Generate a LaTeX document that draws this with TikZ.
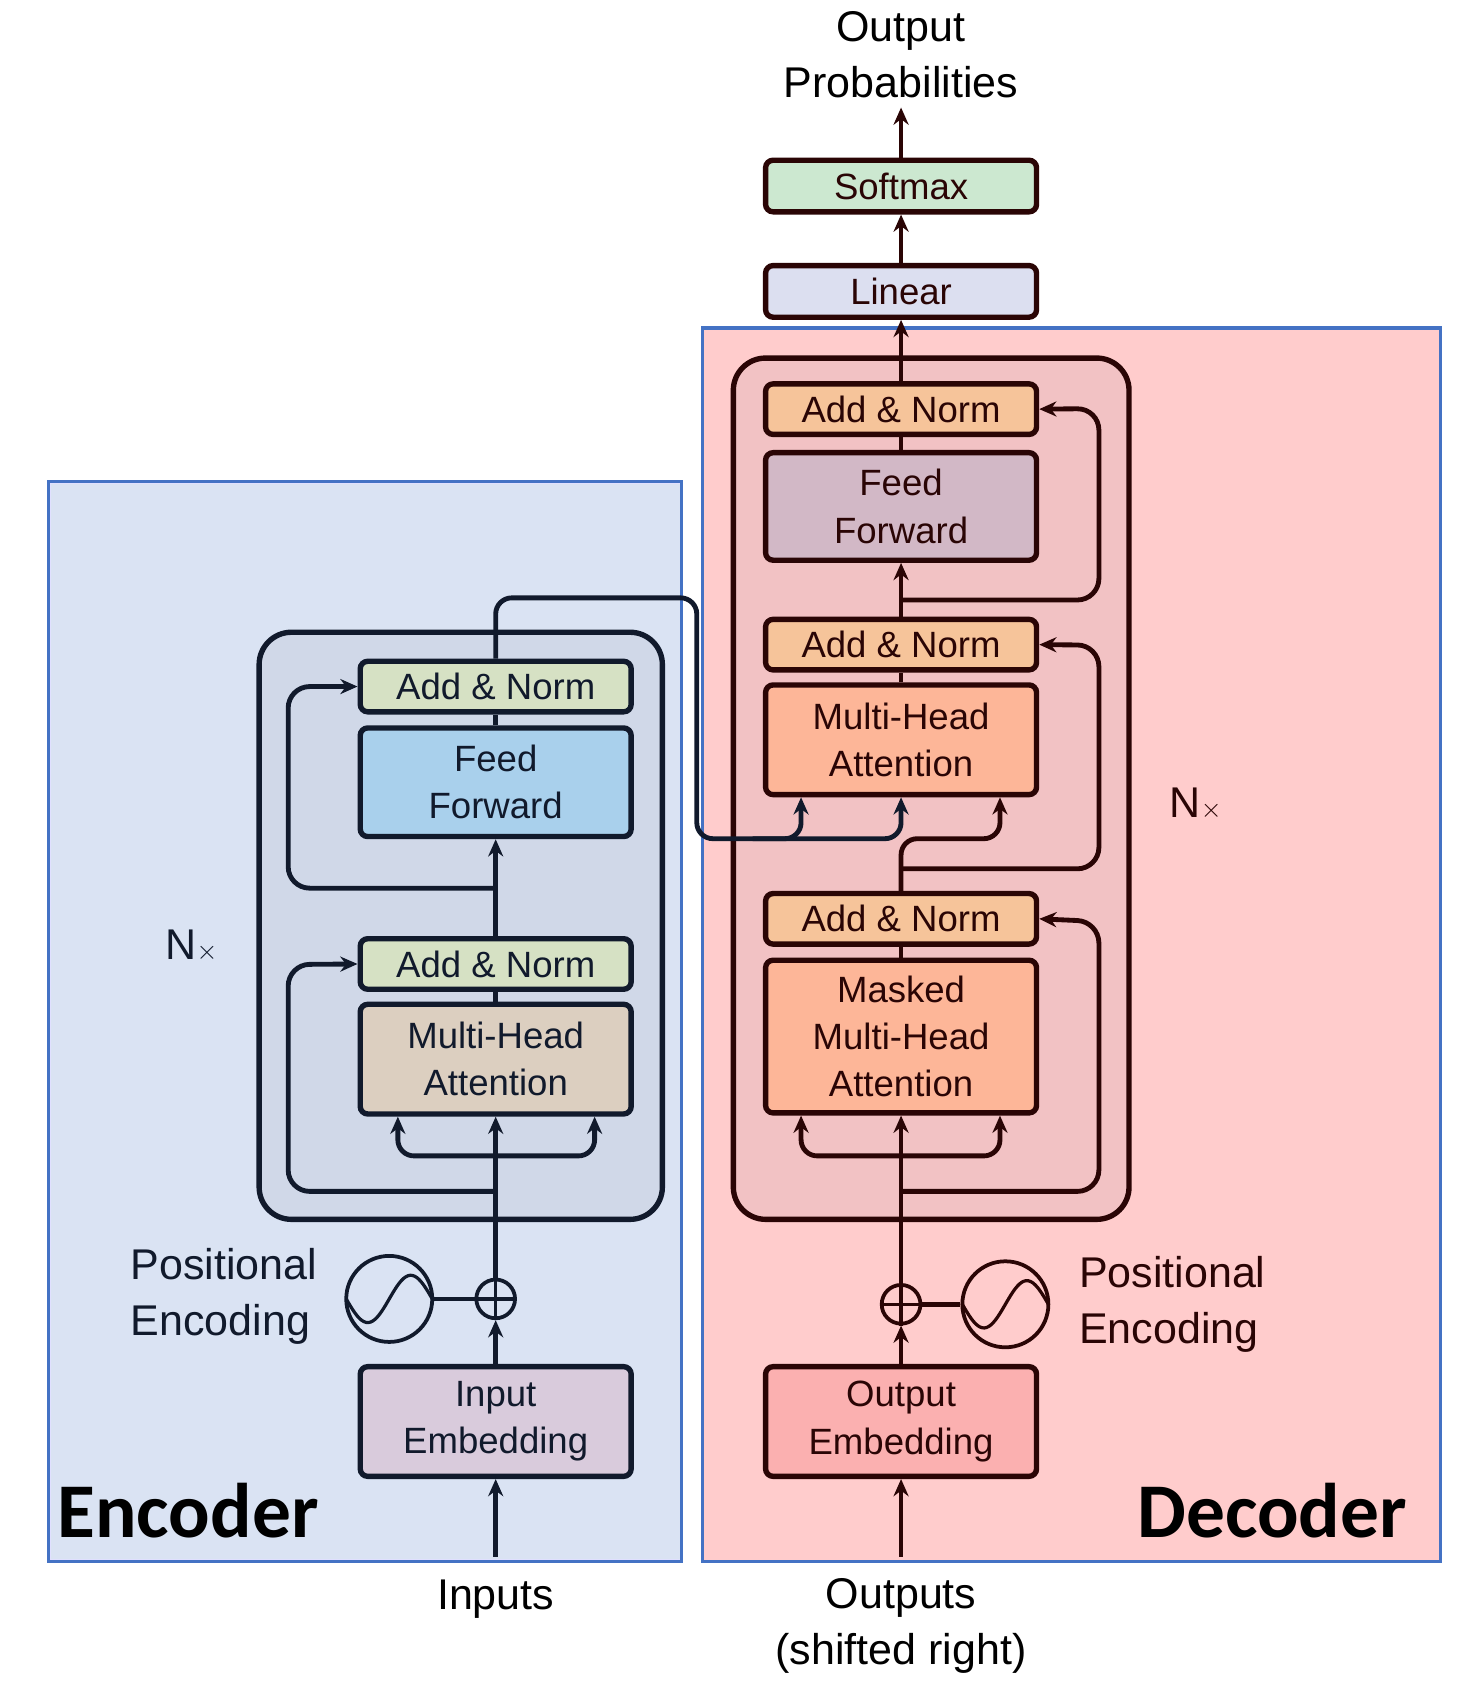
\documentclass[tikz,border=0pt]{standalone}
\usepackage{fontspec}
\setmainfont{Liberation Sans}
\newfontfamily\calib{Carlito}
\usetikzlibrary{arrows.meta}
\definecolor{encline}{HTML}{111A2C}
\definecolor{decline}{HTML}{2A0505}
\definecolor{bluebd}{HTML}{4472C4}
\begin{document}
\begin{tikzpicture}[x=1pt,y=-1pt,
  blk/.style={draw, line width=5pt, rounded corners=7pt, minimum width=252pt, inner sep=0pt, align=center, font=\fontsize{34}{44}\selectfont, text=#1},
  eb/.style={blk=encline, draw=encline},
  db/.style={blk=decline, draw=decline},
  ea/.style={draw=encline, line width=4.5pt, -{Stealth[length=16pt,width=14pt]}},
  el/.style={draw=encline, line width=4.5pt},
  da/.style={draw=decline, line width=4.5pt, -{Stealth[length=16pt,width=14pt]}},
  dl/.style={draw=decline, line width=4.5pt},
  lab/.style={font=\fontsize{40}{52}\selectfont, align=center},
  big/.style={font=\calib\bfseries\fontsize{72}{80}\selectfont}
]
\useasboundingbox (0,0) rectangle (1360,1568);
% outer boxes
\draw[fill=blue!12!white, draw=bluebd, line width=3pt] (45,448) rectangle (634,1452);
\fill[fill={rgb,255:red,218;green,227;blue,243}] (47,450) rectangle (632,1450);
\draw[fill={rgb,255:red,255;green,204;blue,204}, draw=bluebd, line width=3pt] (653,305) rectangle (1340,1452);
% inner boxes
\draw[fill={rgb,255:red,208;green,216;blue,232}, draw=encline, line width=5pt, rounded corners=30pt] (241,588) rectangle (616,1134);
\draw[fill={rgb,255:red,242;green,194;blue,196}, draw=decline, line width=5pt, rounded corners=30pt] (682,333) rectangle (1050,1134);

\coordinate (x370) at (370,0); \coordinate (x553) at (553,0);
\coordinate (x745) at (745,0); \coordinate (x930) at (930,0);

% encoder blocks
\node[eb, fill={rgb,255:red,214;green,225;blue,196}, minimum height=47pt] (ean2) at (461,638.5) {Add \& Norm};
\node[eb, fill={rgb,255:red,169;green,208;blue,236}, minimum height=101pt] (eff) at (461,727.5) {Feed\\Forward};
\node[eb, fill={rgb,255:red,214;green,225;blue,196}, minimum height=47pt] (ean1) at (461,896.5) {Add \& Norm};
\node[eb, fill={rgb,255:red,220;green,207;blue,192}, minimum height=102pt] (emha) at (461,985) {Multi-Head\\Attention};
\node[eb, fill={rgb,255:red,217;green,203;blue,220}, minimum height=102pt] (eemb) at (461,1322) {Input\\Embedding};
\node[draw=encline, line width=3.5pt, circle, minimum size=36pt, inner sep=0pt] (eplus) at (461,1208) {};
\draw[encline, line width=3pt] (eplus.north) -- (eplus.south) (eplus.west) -- (eplus.east);
\node[draw=encline, line width=3.5pt, circle, minimum size=80pt, inner sep=0pt] (esin) at (362,1208) {};
\draw[encline, line width=3pt] plot[domain=-1:1, samples=40] ({362+40*\x},{1208-22*sin(\x*180)});
\node[lab, anchor=west, align=left, text=encline] (epos) at (118,1206) {Positional\\Encoding};
\node[lab, text=encline] (enx) at (178,880) {N$\times$};
\node[big, anchor=west] (enc) at (50,1405) {Encoder};
\node[lab] (inp) at (461,1487) {Inputs};
\coordinate (inb) at (461,1448);

% encoder connectors
\draw[ea] (inb) -- (eemb.south);
\draw[ea] (eemb.north) -- (eplus.south);
\draw[el] (esin.east) -- (eplus.west);
\draw[ea] (eplus.north) -- (emha.south);
\draw[ea, rounded corners=15pt] (461,1075) -- (370,1075) -- (emha.south -| x370);
\draw[ea, rounded corners=15pt] (461,1075) -- (553,1075) -- (emha.south -| x553);
\draw[ea, rounded corners=20pt] (461,1108) -- (268,1108) -- (268,897) -- (ean1.west);
\draw[el] (emha.north) -- (ean1.south);
\draw[ea] (ean1.north) -- (eff.south);
\draw[ea, rounded corners=20pt] (461,826) -- (268,826) -- (268,638.5) -- (ean2.west);
\draw[el] (eff.north) -- (ean2.south);

% decoder blocks
\node[db, fill={rgb,255:red,204;green,232;blue,208}, minimum height=48pt] (soft) at (838,173) {Softmax};
\node[db, fill={rgb,255:red,220;green,223;blue,240}, minimum height=48pt] (lin) at (838,271) {Linear};
\node[db, fill={rgb,255:red,246;green,196;blue,154}, minimum height=47pt] (dan3) at (838,380.5) {Add \& Norm};
\node[db, fill={rgb,255:red,210;green,184;blue,198}, minimum height=100pt] (dff) at (838,471) {Feed\\Forward};
\node[db, fill={rgb,255:red,246;green,196;blue,154}, minimum height=47pt] (dan2) at (838,599.5) {Add \& Norm};
\node[db, fill={rgb,255:red,253;green,182;blue,152}, minimum height=102pt] (dmha) at (838,688) {Multi-Head\\Attention};
\node[db, fill={rgb,255:red,246;green,196;blue,154}, minimum height=47pt] (dan1) at (838,854.5) {Add \& Norm};
\node[db, fill={rgb,255:red,253;green,182;blue,152}, minimum height=142pt] (dmm) at (838,964) {Masked\\Multi-Head\\Attention};
\node[db, fill={rgb,255:red,251;green,176;blue,176}, minimum height=102pt] (demb) at (838,1322) {Output\\Embedding};
\node[draw=decline, line width=3.5pt, circle, minimum size=36pt, inner sep=0pt] (dplus) at (838,1213) {};
\draw[decline, line width=3pt] (dplus.north) -- (dplus.south) (dplus.west) -- (dplus.east);
\node[draw=decline, line width=3.5pt, circle, minimum size=80pt, inner sep=0pt] (dsin) at (935,1213) {};
\draw[decline, line width=3pt] plot[domain=-1:1, samples=40] ({935+40*\x},{1213-22*sin(\x*180)});
\node[lab, anchor=west, align=left, text=decline] (dpos) at (1000,1213) {Positional\\Encoding};
\node[lab, text=decline] (dnx) at (1112,748) {N$\times$};
\node[big, anchor=east] (dec) at (1312,1405) {Decoder};
\node[lab] (outs) at (838,1512) {Outputs\\(shifted right)};
\node[lab] (prob) at (838,51) {Output\\Probabilities};
\coordinate (outb) at (838,1448);
\coordinate (probb) at (838,100);

% decoder connectors
\draw[da] (outb) -- (demb.south);
\draw[da] (demb.north) -- (dplus.south);
\draw[dl] (dsin.west) -- (dplus.east);
\draw[da] (dplus.north) -- (dmm.south);
\draw[da, rounded corners=15pt] (838,1075) -- (745,1075) -- (dmm.south -| x745);
\draw[da, rounded corners=15pt] (838,1075) -- (930,1075) -- (dmm.south -| x930);
\draw[da, rounded corners=20pt] (838,1108) -- (1022,1108) -- (1022,857) -- (dan1.east);
\draw[dl] (dmm.north) -- (dan1.south);
\draw[da, rounded corners=15pt] (dan1.north) -- (838,780) -- (930,780) -- (dmha.south -| x930);
\draw[da, rounded corners=20pt] (838,808) -- (1022,808) -- (1022,600) -- (dan2.east);
\draw[dl] (dmha.north) -- (dan2.south);
\draw[da] (dan2.north) -- (dff.south);
\draw[da, rounded corners=20pt] (838,558) -- (1022,558) -- (1022,380) -- (dan3.east);
\draw[dl] (dff.north) -- (dan3.south);
\draw[da] (dan3.north) -- (lin.south);
\draw[da] (lin.north) -- (soft.south);
\draw[da] (soft.north) -- (probb);

% encoder to decoder
\draw[ea, rounded corners=15pt] (ean2.north) -- (461,556) -- (648,556) -- (648,780) -- (745,780) -- (dmha.south -| x745);
\draw[ea, rounded corners=15pt] (700,780) -- (838,780) -- (dmha.south);
\end{tikzpicture}
\end{document}
